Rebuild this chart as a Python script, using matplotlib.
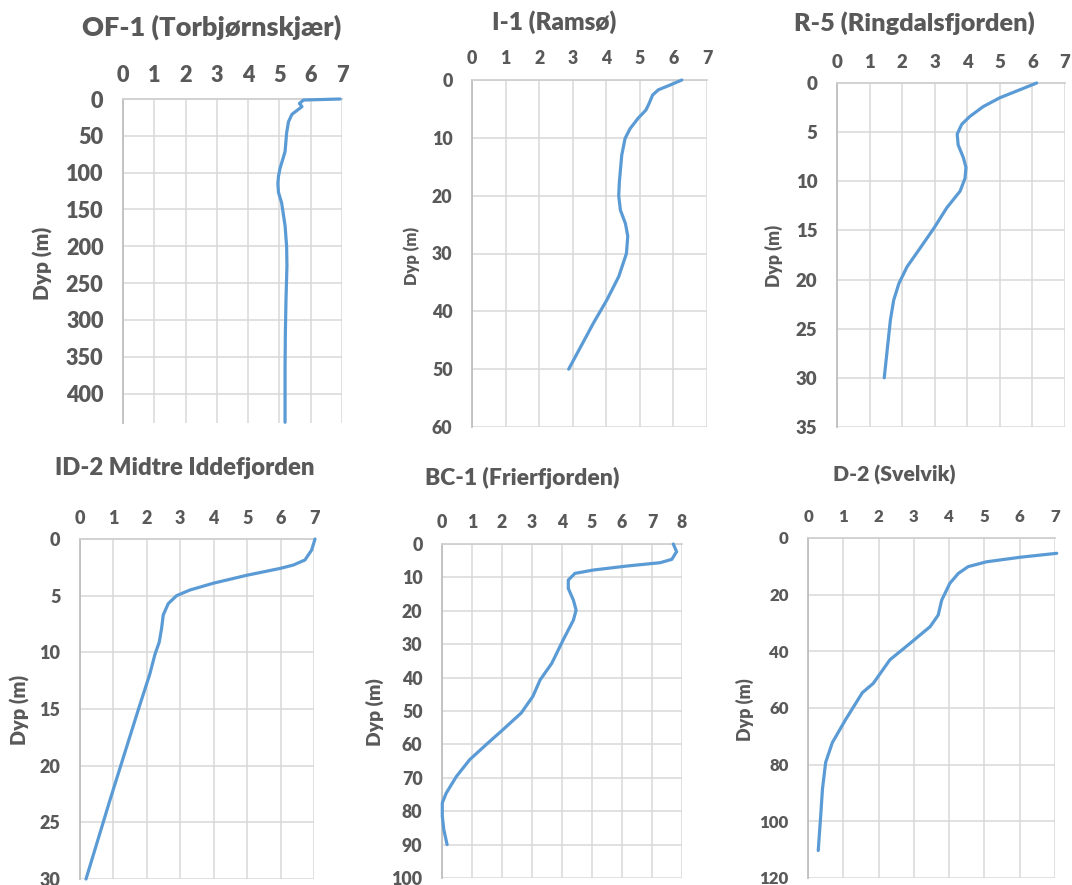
import matplotlib
matplotlib.use("Agg")
import matplotlib.pyplot as plt

plt.rcParams['font.family'] = ['Lato', 'DejaVu Sans']

W, H = 1072, 885
TXT = '#595959'
GRID = '#d9d9d9'
LINE = '#5b9bd5'
WEIGHT = 'heavy'

# ---------- data (value, depth) ----------
of1_val = [6.94, 5.77, 5.64, 5.72, 5.40, 5.29, 5.23, 5.18, 5.02, 4.97, 4.95, 4.97, 5.07, 5.18, 5.23, 5.24, 5.21, 5.19, 5.18, 5.18]
of1_dep = [0, 1.4, 6, 10.4, 20.8, 30.8, 46, 71.5, 94, 105, 115, 127, 141, 172, 200, 227, 272, 317, 362, 439]

i1_val = [6.25, 5.90, 5.55, 5.38, 5.28, 5.18, 4.95, 4.71, 4.56, 4.46, 4.39, 4.37, 4.42, 4.57, 4.64, 4.60, 4.37, 4.02, 3.62, 2.88]
i1_dep = [0, 0.87, 1.7, 2.6, 4.0, 5.2, 6.6, 8.4, 10.1, 13, 17.6, 20, 22.5, 24.8, 27, 30, 34, 38, 42, 50]

r5_val = [6.13, 5.62, 5.00, 4.49, 4.08, 3.83, 3.69, 3.72, 3.88, 3.96, 3.93, 3.78, 3.37, 2.97, 2.51, 2.15, 1.90, 1.74, 1.64, 1.54, 1.45]
r5_dep = [0, 0.68, 1.5, 2.4, 3.4, 4.2, 5.2, 6.3, 7.6, 8.6, 9.7, 11, 12.7, 14.8, 17, 18.7, 20.4, 22.1, 24.1, 27.2, 30]

id2_val = [7.03, 6.93, 6.73, 6.38, 5.98, 4.99, 3.99, 3.29, 2.89, 2.64, 2.49, 2.44, 2.37, 2.24, 2.09, 1.74, 0.90, 0.18]
id2_dep = [0, 0.97, 1.85, 2.3, 2.6, 3.2, 3.9, 4.5, 5.0, 5.7, 6.7, 7.9, 9.1, 10.2, 11.9, 15.1, 23, 30]

bc1_val = [7.71, 7.82, 7.66, 7.27, 6.16, 5.04, 4.43, 4.21, 4.21, 4.38, 4.47, 4.38, 4.04, 3.66, 3.27, 3.03, 2.64, 2.03, 1.48, 0.92, 0.48, 0.14, 0.01, 0.01, 0.06, 0.17]
bc1_dep = [0, 2.3, 4.6, 5.6, 6.6, 7.8, 8.8, 10.8, 13.3, 16.8, 19.8, 22.8, 28.7, 35.7, 40.7, 45.6, 50.6, 55.6, 60, 64.6, 69.6, 74.6, 77.5, 81.5, 85.5, 90]

d2_val = [7.05, 6.01, 5.06, 4.54, 4.26, 4.02, 3.79, 3.69, 3.46, 2.89, 2.32, 1.85, 1.54, 1.07, 0.69, 0.50, 0.41, 0.36, 0.29]
d2_dep = [5.4, 6.8, 8.4, 10.1, 12.5, 16, 21.9, 27.2, 31.3, 37.2, 43, 51.3, 54.6, 64, 72.2, 79.2, 88.6, 98, 110.3]

titles = ['OF-1 (Torbjørnskjær)', 'I-1 (Ramsø)', 'R-5 (Ringdalsfjorden)',
          'ID-2 Midtre Iddefjorden', 'BC-1 (Frierfjorden)', 'D-2 (Svelvik)']
ylabel = 'Dyp (m)'

# layout (pixels): axes box, title centre, title width, y-label centre, y-label length, widest y tick width
panels = [
    dict(x=of1_val, y=of1_dep, xmax=7, ymax=440, ystep=50, box=(123, 99, 342, 423),
         title_xy=(212, 27), tw=259, lab_xy=(43, 263), lw=73, tickw=37.7),
    dict(x=i1_val, y=i1_dep, xmax=7, ymax=60, ystep=10, box=(472, 80, 707, 427),
         title_xy=(554, 22), tw=125, lab_xy=(412, 256), lw=58, tickw=20.7),
    dict(x=r5_val, y=r5_dep, xmax=7, ymax=35, ystep=5, box=(837, 83, 1065, 427),
         title_xy=(914, 23), tw=240, lab_xy=(774, 256), lw=62, tickw=21.7),
    dict(x=id2_val, y=id2_dep, xmax=7, ymax=30, ystep=5, box=(80, 539, 314, 879),
         title_xy=(185, 468), tw=260, lab_xy=(20, 710), lw=70, tickw=21.0),
    dict(x=bc1_val, y=bc1_dep, xmax=8, ymax=100, ystep=10, box=(442, 544, 682, 878),
         title_xy=(522, 478), tw=194, lab_xy=(375, 712), lw=68, tickw=31.0),
    dict(x=d2_val, y=d2_dep, xmax=7, ymax=120, ystep=20, box=(808, 538, 1055, 878),
         title_xy=(894, 475), tw=123, lab_xy=(745, 710), lw=63, tickw=29.3),
]

fig = plt.figure(figsize=(W / 100, H / 100), dpi=100)
fig.patch.set_facecolor('white')
renderer = fig.canvas.get_renderer()


def fit_text(t, target, horizontal=True, base=14.0):
    t.set_fontsize(base)
    bb = t.get_window_extent(renderer)
    size = bb.width if horizontal else bb.height
    t.set_fontsize(base * target / size)


axes = []
for p, title in zip(panels, titles):
    l, t, r, b = p['box']
    ax = fig.add_axes([l / W, 1 - b / H, (r - l) / W, (b - t) / H])
    ax.plot(p['x'], p['y'], color=LINE, lw=2.3, solid_capstyle='round',
            solid_joinstyle='round', clip_on=False, zorder=3)
    ax.set_xlim(0, p['xmax'])
    ax.set_ylim(p['ymax'], 0)
    ax.set_xticks(range(0, p['xmax'] + 1))
    ax.set_yticks(range(0, p['ymax'] + 1, p['ystep']))
    ax.xaxis.tick_top()
    ax.tick_params(axis='both', length=0, colors=TXT, labelsize=13)
    ax.tick_params(axis='x', pad=9)
    ax.tick_params(axis='y', pad=14)
    ax.grid(True, color=GRID, lw=1.1)
    ax.set_axisbelow(True)
    for s in ['right', 'bottom']:
        ax.spines[s].set_visible(False)
    ax.spines['left'].set_color('#bfbfbf')
    ax.spines['top'].set_color('#d0d0d0')
    ax.spines['left'].set_linewidth(1.3)
    ax.spines['top'].set_linewidth(1.3)
    tt = fig.text(p['title_xy'][0] / W, 1 - p['title_xy'][1] / H, title,
                  ha='center', va='center', fontweight=WEIGHT, color=TXT)
    fit_text(tt, p['tw'])
    yl = fig.text(p['lab_xy'][0] / W, 1 - p['lab_xy'][1] / H, ylabel, rotation=90,
                  ha='center', va='center', fontweight=WEIGHT, color=TXT)
    fit_text(yl, p['lw'], horizontal=False)
    axes.append(ax)

for ax in axes:
    for lab in ax.get_xticklabels() + ax.get_yticklabels():
        lab.set_fontweight(WEIGHT)
        lab.set_color(TXT)
fig.canvas.draw()
for ax, p in zip(axes, panels):
    widest = max(lab.get_window_extent(renderer).width for lab in ax.get_yticklabels())
    size = 13 * p['tickw'] / widest
    ax.tick_params(axis='both', labelsize=size)
    for lab in ax.get_xticklabels() + ax.get_yticklabels():
        lab.set_fontweight(WEIGHT)
        lab.set_color(TXT)

fig.savefig('out.png', dpi=100, facecolor='white')
